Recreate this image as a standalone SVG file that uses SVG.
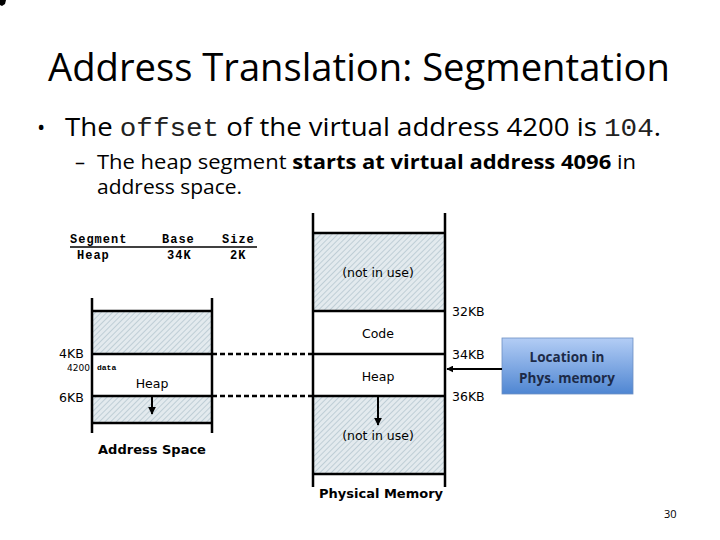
<svg xmlns="http://www.w3.org/2000/svg" width="720" height="540" viewBox="0 0 720 540">
<defs>
<pattern id="hatch" patternUnits="userSpaceOnUse" width="4" height="4" patternTransform="rotate(45)">
<rect width="4" height="4" fill="#e3eaee"/>
<line x1="0" y1="0" x2="0" y2="4" stroke="#b6c7d0" stroke-width="1.6"/>
</pattern>
<linearGradient id="boxg" x1="0" y1="0" x2="0" y2="1">
<stop offset="0" stop-color="#b3cdf5"/>
<stop offset="1" stop-color="#4f86d2"/>
</linearGradient>
<marker id="arr" viewBox="0 0 10 10" refX="9" refY="5" markerWidth="4" markerHeight="4" orient="auto" markerUnits="strokeWidth">
<path d="M0,0 L10,5 L0,10 z" fill="#000"/>
</marker>
<marker id="arrs" viewBox="0 0 10 10" refX="9" refY="5" markerWidth="3.5" markerHeight="3.5" orient="auto" markerUnits="strokeWidth">
<path d="M0,0 L10,5 L0,10 z" fill="#000"/>
</marker>
</defs>
<style>
.ln{stroke:#000;stroke-width:2.5;fill:none}
.dash{stroke:#000;stroke-width:2.5;stroke-dasharray:5 3;fill:none}
.lbl{font-family:"DejaVu Sans",sans-serif;font-size:12.5px;fill:#000}
.mono{font-family:"Liberation Mono","DejaVu Sans Mono",monospace;font-weight:bold;font-size:12px;fill:#000;letter-spacing:1px}
.cap{font-family:"DejaVu Sans",sans-serif;font-weight:bold;font-size:13px;fill:#000}
.body{font-family:"Open Sans","Noto Sans",sans-serif;fill:#000}
</style>
<rect width="720" height="540" fill="#fff"/>
<path d="M0,0 L6,0 L5,4 L2,6 L0,5 z" fill="#000"/>

<g id="title">
<text class="body" x="359" y="81" font-size="39" text-anchor="middle" textLength="622" lengthAdjust="spacingAndGlyphs">Address Translation: Segmentation</text>
</g>
<g id="bullets">
<text class="body" x="37" y="135" font-size="22">•</text>
<text class="body" x="65" y="136" font-size="25" textLength="596" lengthAdjust="spacingAndGlyphs">The <tspan font-family="'Liberation Mono',monospace" fill="#222">offset</tspan> of the virtual address 4200 is <tspan font-family="'Liberation Mono',monospace" fill="#222">104</tspan>.</text>
<text class="body" x="75" y="169" font-size="20">–</text>
<text class="body" x="97" y="169" font-size="20" textLength="539" lengthAdjust="spacingAndGlyphs">The heap segment <tspan font-weight="bold">starts at virtual address 4096</tspan> in</text>
<text class="body" x="97" y="194" font-size="20" textLength="145" lengthAdjust="spacingAndGlyphs">address space.</text>
</g>

<g id="table">
<text class="mono" x="70" y="243">Segment</text>
<text class="mono" x="162" y="243">Base</text>
<text class="mono" x="222" y="243">Size</text>
<line x1="70" y1="247" x2="257" y2="247" stroke="#000" stroke-width="1.5"/>
<text class="mono" x="77" y="259">Heap</text>
<text class="mono" x="167" y="259">34K</text>
<text class="mono" x="230" y="259">2K</text>
</g>

<g id="address-space">
<rect x="92" y="311" width="120" height="43" fill="url(#hatch)"/>
<rect x="92" y="396" width="120" height="27" fill="url(#hatch)"/>
<path class="ln" d="M92,298 V433 M212,298 V433 M92,311 H212 M92,354 H212 M92,396 H212 M92,423 H212"/>
<text class="lbl" x="59" y="358">4KB</text>
<text class="lbl" x="59" y="402">6KB</text>
<text x="67" y="371" font-family="'DejaVu Sans',sans-serif" font-size="9">4200</text>
<text x="97" y="370" font-family="'Liberation Mono',monospace" font-weight="bold" font-size="8">data</text>
<text class="lbl" x="152" y="388" text-anchor="middle" font-size="14">Heap</text>
<text class="cap" x="152" y="454" text-anchor="middle">Address Space</text>
</g>

<g id="physical-memory">
<rect x="313" y="233" width="132" height="78" fill="url(#hatch)"/>
<rect x="313" y="396" width="132" height="78" fill="url(#hatch)"/>
<path class="ln" d="M313,213 V487 M445,213 V487 M313,233 H445 M313,311 H445 M313,354 H445 M313,396 H445 M313,474 H445"/>
<text class="lbl" x="378" y="277" text-anchor="middle">(not in use)</text>
<text class="lbl" x="378" y="338" text-anchor="middle">Code</text>
<text class="lbl" x="378" y="381" text-anchor="middle">Heap</text>
<text class="lbl" x="378" y="440" text-anchor="middle">(not in use)</text>
<text class="lbl" x="452" y="316">32KB</text>
<text class="lbl" x="452" y="359">34KB</text>
<text class="lbl" x="452" y="401">36KB</text>
<text class="cap" x="381" y="498" text-anchor="middle">Physical Memory</text>
</g>

<g id="location-box">
<rect x="502" y="338" width="131" height="56" fill="url(#boxg)" stroke="#6d8fc4" stroke-width="0.8"/>
<text x="567" y="362" text-anchor="middle" font-family="'Open Sans','Noto Sans',sans-serif" font-weight="bold" font-size="13.5" fill="#1c2a48">Location in</text>
<text x="567" y="383" text-anchor="middle" font-family="'Open Sans','Noto Sans',sans-serif" font-weight="bold" font-size="13.5" fill="#1c2a48">Phys. memory</text>
</g>

<g id="connectors">
<path class="dash" d="M212,354 H313 M212,396 H313"/>
<line x1="152" y1="396" x2="152" y2="414" stroke="#000" stroke-width="2" marker-end="url(#arr)"/>
<line x1="378" y1="396" x2="378" y2="425" stroke="#000" stroke-width="2" marker-end="url(#arr)"/>
<line x1="502" y1="369" x2="447" y2="369" stroke="#000" stroke-width="2" marker-end="url(#arrs)"/>
</g>

<g id="page-number">
<text x="664" y="518" font-family="'Open Sans','Noto Sans',sans-serif" font-size="11" fill="#000">30</text>
</g>
</svg>
